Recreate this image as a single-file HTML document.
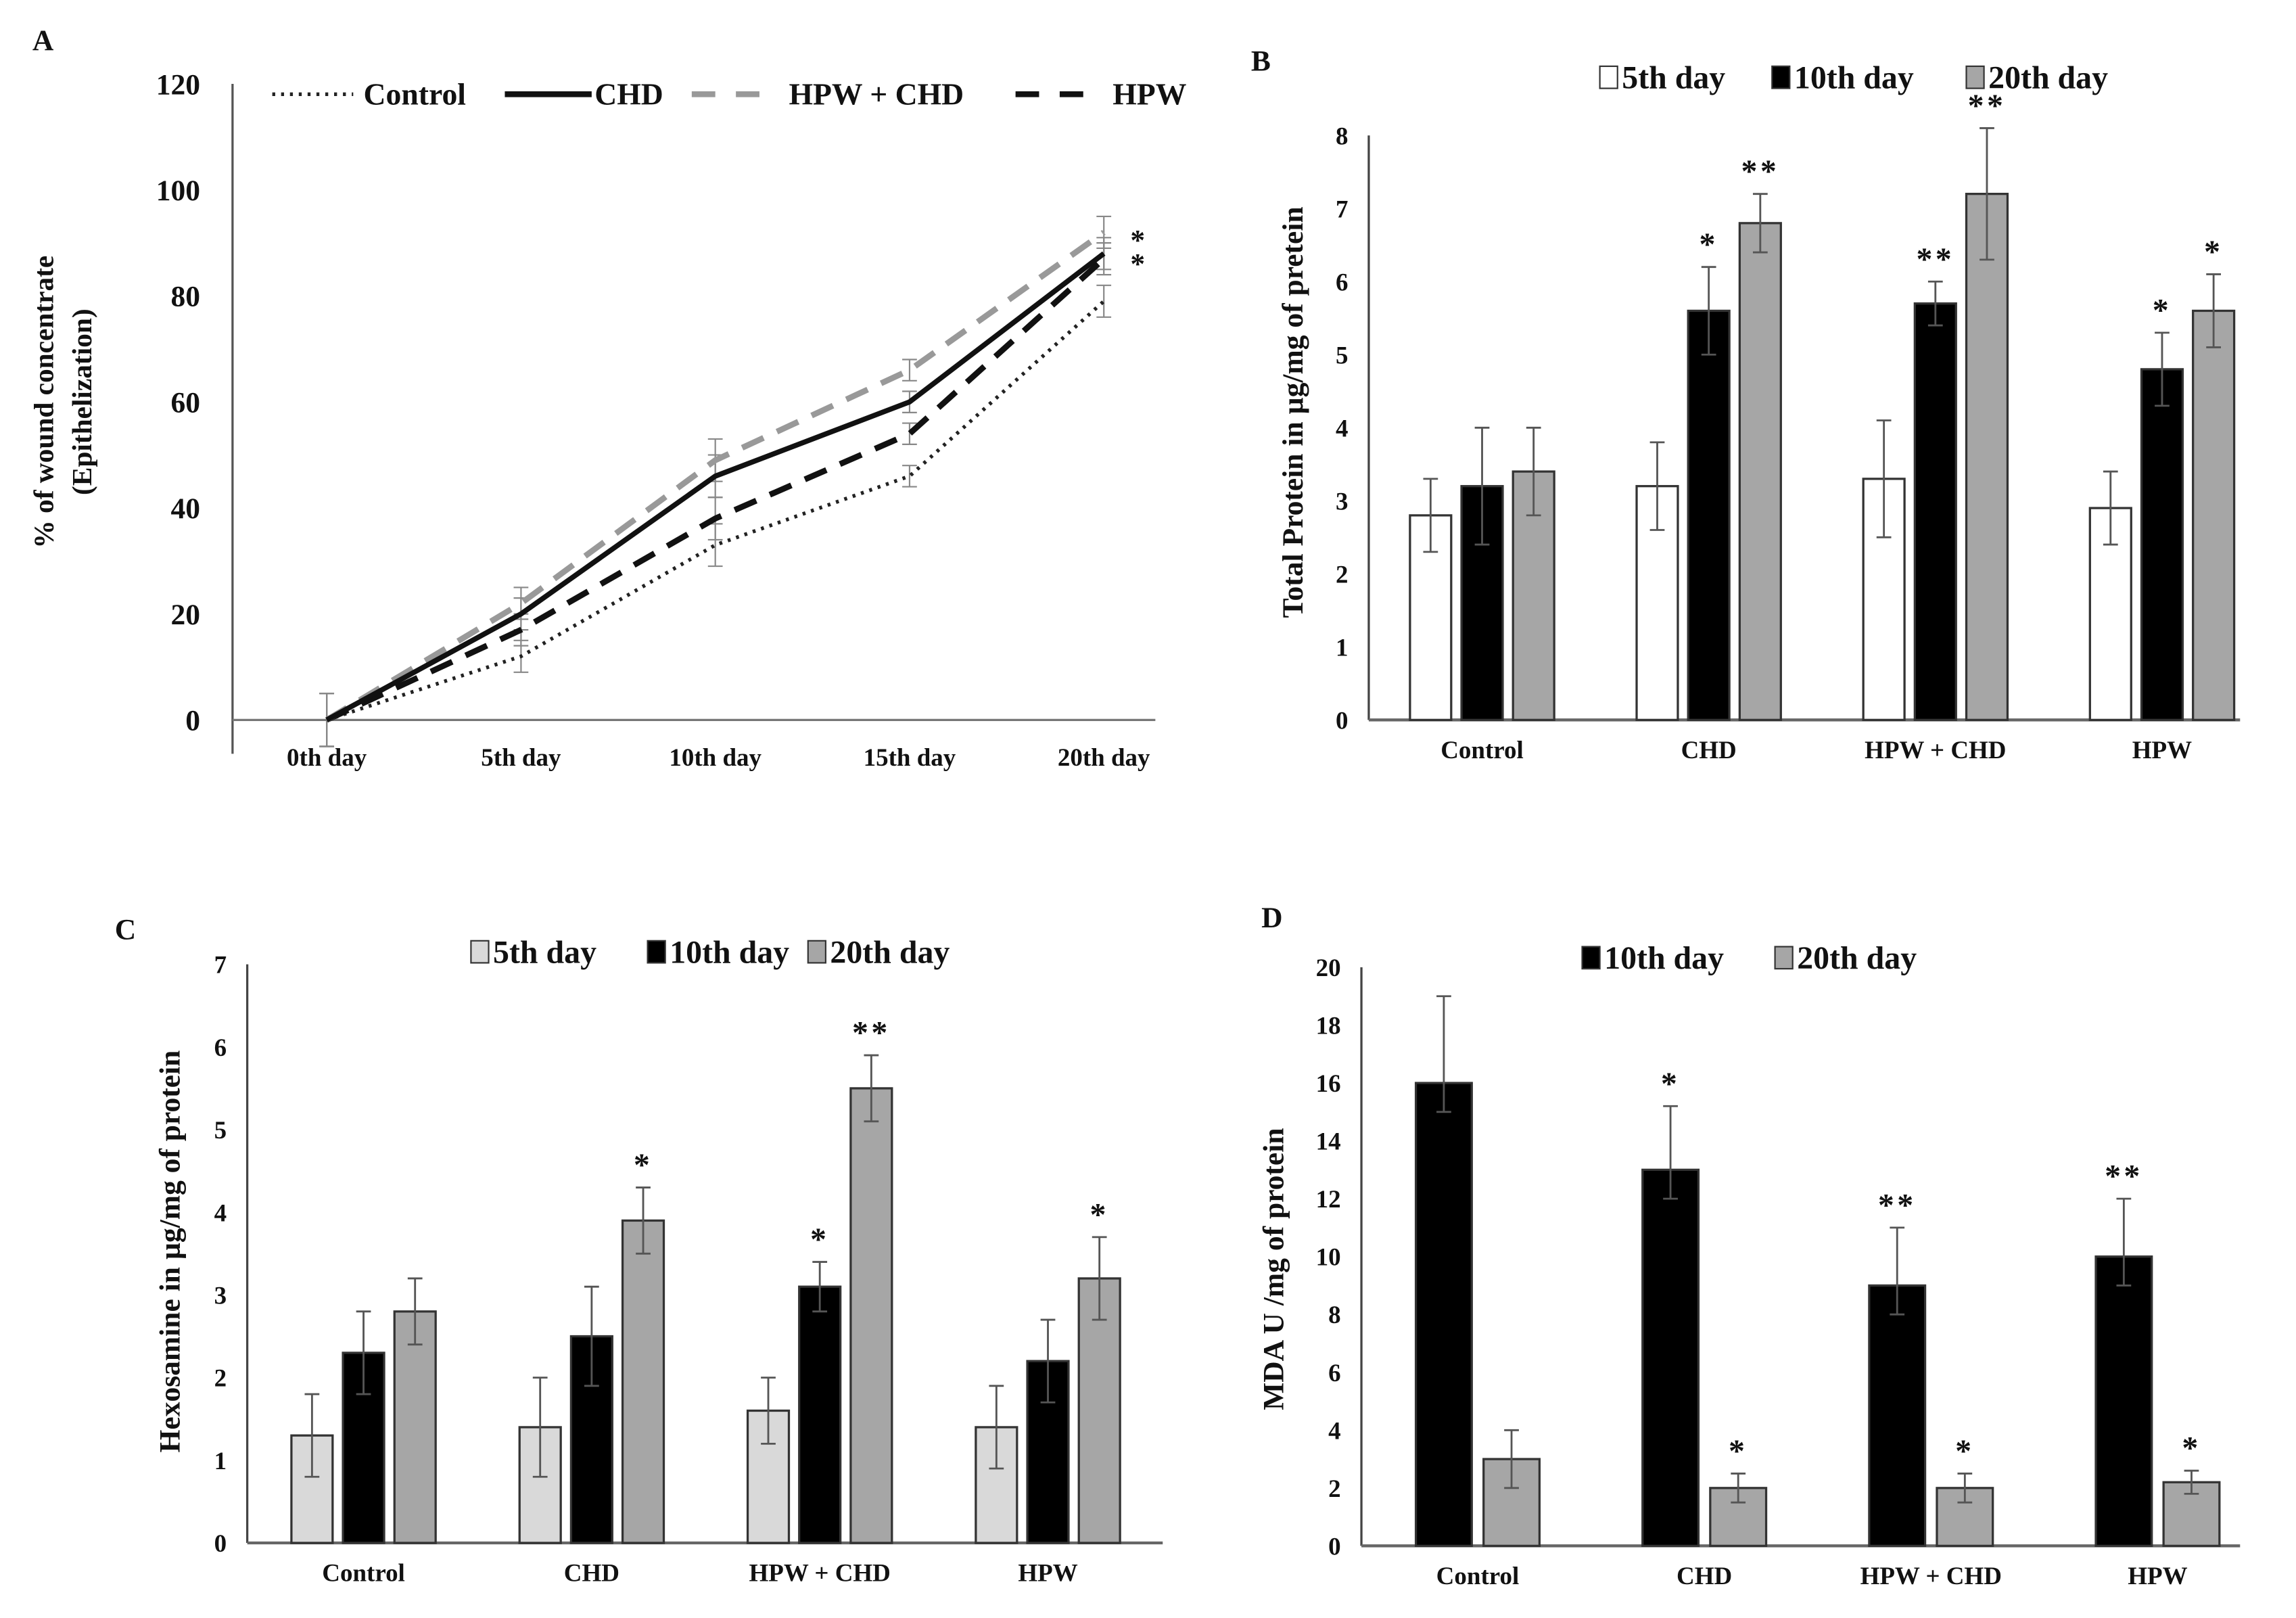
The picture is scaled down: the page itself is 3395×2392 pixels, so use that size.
<!DOCTYPE html>
<html><head><meta charset="utf-8"><style>
html,body{margin:0;padding:0;background:#fff}
svg{display:block}
text{font-family:"Liberation Serif",serif;font-weight:bold;fill:#111}
</style></head><body>
<svg id="fig" width="3395" height="2392" viewBox="0 0 1560 1099" preserveAspectRatio="none" xmlns="http://www.w3.org/2000/svg">
<rect width="1560" height="1099" fill="#fff"/>
<g id="pA"></g>
<g id="pB"></g>
<g id="pC"></g>
<g id="pD"></g>
</svg>
<script>
// Panel A data
const aDays = ["0th day","5th day","10th day","15th day","20th day"];
const aControl = [0,12,33,46,79];
const aCHD = [0,20,46,60,88];
const aHPWCHD = [0,22,49,66,92];
const aHPW = [0,17,38,54,87];
const aErr = [5,3,4,2,3];
const aTicks = [0,20,40,60,80,100,120];
// Panel B data
const groups = ["Control","CHD","HPW + CHD","HPW"];
const b5 = [2.8,3.2,3.3,2.9];
const b10 = [3.2,5.6,5.7,4.8];
const b20 = [3.4,6.8,7.2,5.6];
const b5e = [0.5,0.6,0.8,0.5];
const b10e = [0.8,0.6,0.3,0.5];
const b20e = [0.6,0.4,0.9,0.5];
const b10s = ["","*","**","*"];
const b20s = ["","**","**","*"];
const bTicks = [0,1,2,3,4,5,6,7,8];
// Panel C data
const c5 = [1.3,1.4,1.6,1.4];
const c10 = [2.3,2.5,3.1,2.2];
const c20 = [2.8,3.9,5.5,3.2];
const c5e = [0.5,0.6,0.4,0.5];
const c10e = [0.5,0.6,0.3,0.5];
const c20e = [0.4,0.4,0.4,0.5];
const c10s = ["","","*",""];
const c20s = ["","*","**","*"];
const cTicks = [0,1,2,3,4,5,6,7];
// Panel D data
const d10 = [16,13,9,10];
const d20 = [3,2,2,2.2];
const d10hi = [19,15.2,11,12];
const d10lo = [15,12,8,9];
const d20hi = [4,2.5,2.5,2.6];
const d20lo = [2,1.5,1.5,1.8];
const d10s = ["","*","**","**"];
const d20s = ["","*","*","*"];
const dTicks = [0,2,4,6,8,10,12,14,16,18,20];

const NS="http://www.w3.org/2000/svg";
function mk(parent,tag,attrs,txt){const e=document.createElementNS(NS,tag);for(const k in attrs)e.setAttribute(k,attrs[k]);if(txt!==undefined)e.textContent=txt;parent.appendChild(e);return e;}
function lin(d0,d1,r0,r1){return v=>r0+(v-d0)*(r1-r0)/(d1-d0);}

// ---------- Panel A ----------
(function(){
const g=document.getElementById('pA');
const y=lin(0,120,489,57);
const x=i=>222+i*132;
let t=mk(g,'text',{x:22,y:34,'font-size':20});
t.textContent='A';
let ax=mk(g,'line',{x1:158,y1:57,x2:158,y2:512,stroke:'#555','stroke-width':1.5});

let bx=mk(g,'line',{x1:158,y1:y(0),x2:785,y2:y(0),stroke:'#777','stroke-width':1.5});

aTicks.forEach(v=>{const e=mk(g,'text',{x:136,y:y(v)+7,'text-anchor':'end','font-size':20},v);
});
aDays.forEach((d,i)=>{const e=mk(g,'text',{x:x(i),y:520,'text-anchor':'middle','font-size':17},d);
});
const yt=mk(g,'text',{transform:'translate(36,273) rotate(-90)','text-anchor':'middle','font-size':19},'% of wound concentrate');

const yt2=mk(g,'text',{transform:'translate(62,273) rotate(-90)','text-anchor':'middle','font-size':19},'(Epithelization)');

const series=[
 {d:aControl,n:'control',st:'#222',w:2.5,da:'2 4'},
 {d:aHPW,n:'hpw',st:'#111',w:4,da:'16 10'},
 {d:aHPWCHD,n:'hpw-chd',st:'#999',w:4,da:'16 10'},
 {d:aCHD,n:'chd',st:'#111',w:3.5,da:''}];
series.forEach(s=>{
 s.d.forEach((v,i)=>{const eb=mk(g,'path',{d:`M${x(i)},${y(v-aErr[i])}V${y(v+aErr[i])}M${x(i)-5},${y(v-aErr[i])}h10M${x(i)-5},${y(v+aErr[i])}h10`,stroke:'#888','stroke-width':1,fill:'none'});
 });
});
series.forEach(s=>{
 const p=mk(g,'polyline',{points:s.d.map((v,i)=>x(i)+','+y(v)).join(' '),fill:'none',stroke:s.st,'stroke-width':s.w,'stroke-dasharray':s.da});
 
});
const st=mk(g,'text',{x:768,y:y(aHPWCHD[4])+12,'font-size':20},'*');
const st2=mk(g,'text',{x:768,y:y(aHPWCHD[4])+28,'font-size':20},'*');
// legend
const lg=mk(g,'g',{});
mk(lg,'line',{x1:185,y1:64,x2:240,y2:64,stroke:'#222','stroke-width':2.5,'stroke-dasharray':'2 4'});
mk(lg,'text',{x:247,y:71,'font-size':21},'Control');
mk(lg,'line',{x1:343,y1:64,x2:402,y2:64,stroke:'#111','stroke-width':4});
mk(lg,'text',{x:404,y:71,'font-size':21},'CHD');
mk(lg,'line',{x1:470,y1:64,x2:530,y2:64,stroke:'#999','stroke-width':4,'stroke-dasharray':'16 14'});
mk(lg,'text',{x:536,y:71,'font-size':21},'HPW + CHD');
mk(lg,'line',{x1:690,y1:64,x2:750,y2:64,stroke:'#111','stroke-width':4,'stroke-dasharray':'16 14'});
mk(lg,'text',{x:756,y:71,'font-size':21},'HPW');
})();

// ---------- generic bar panel ----------
function barPanel(o){
 const g=document.getElementById(o.id);
 const y=lin(0,o.max,o.y0,o.ytop);
 const lab=mk(g,'text',{x:o.lx,y:o.ly,'font-size':20},o.label);
 
 const ya=mk(g,'line',{x1:o.ax,y1:o.ytop,x2:o.ax,y2:o.y0,stroke:'#444','stroke-width':1.5});
 
 const xa=mk(g,'line',{x1:o.ax,y1:o.y0,x2:o.axEnd,y2:o.y0,stroke:'#666','stroke-width':2});
 
 o.ticks.forEach(v=>{const e=mk(g,'text',{x:o.ax-14,y:y(v)+6,'text-anchor':'end','font-size':17,fill:o.tickFill},v);
 });
 const yt=mk(g,'text',{transform:`translate(${o.tx},${o.tyc}) rotate(-90)`,'text-anchor':'middle','font-size':20},o.ytitle);
 
 groups.forEach((gn,gi)=>{
  const cx=o.c0+gi*o.gap;
  const tl=mk(g,'text',{x:cx,y:o.y0+26,'text-anchor':'middle','font-size':17},gn);
  
  o.series.forEach((s,si)=>{
   const n=o.series.length;
   const bxc=cx+(si-(n-1)/2)*o.step;
   const v=s.v[gi];
   const r=mk(g,'rect',{x:bxc-o.bw/2,y:y(v),width:o.bw,height:o.y0-y(v),fill:s.fill,stroke:'#333','stroke-width':1.5});
   
   
   const hi=s.hi?s.hi[gi]:v+s.e[gi], lo=s.lo?s.lo[gi]:v-s.e[gi];
   const eb=mk(g,'path',{d:`M${bxc},${y(lo)}V${y(hi)}M${bxc-5},${y(lo)}h10M${bxc-5},${y(hi)}h10`,stroke:'#555','stroke-width':1.3,fill:'none'});
   
   if(s.s&&s.s[gi]){const st=mk(g,'text',{x:bxc,y:y(hi)-8,'text-anchor':'middle','font-size':22,'letter-spacing':2},s.s[gi]);
    }
  });
 });
 const lg=mk(g,'g',{});
 o.legend.forEach(L=>{mk(lg,'rect',{x:L.x,y:o.legY-13,width:12,height:15,fill:L.fill,stroke:'#333','stroke-width':1});
  mk(lg,'text',{x:L.x+15,y:o.legY+2,'font-size':22},L.t);});
}

barPanel({id:'pB',p:'b',label:'B',lx:850,ly:48,max:8,y0:489,ytop:92,ax:930,axEnd:1522,ticks:bTicks,tickFill:'#111',
 tx:885,tyc:280,ytitle:'Total Protein in µg/mg of pretein',c0:1007,gap:154,step:35,bw:28,
 series:[{n:'5th-day',v:b5,e:b5e,fill:'#fff'},{n:'10th-day',v:b10,e:b10e,fill:'#000',s:b10s},{n:'20th-day',v:b20,e:b20e,fill:'#a6a6a6',s:b20s}],
 legY:58,legend:[{x:1087,fill:'#fff',t:'5th day'},{x:1204,fill:'#000',t:'10th day'},{x:1336,fill:'#a6a6a6',t:'20th day'}]});

barPanel({id:'pC',p:'c',label:'C',lx:78,ly:638,max:7,y0:1048,ytop:655,ax:168,axEnd:790,ticks:cTicks,tickFill:'#555',
 tx:122,tyc:850,ytitle:'Hexosamine in µg/mg of protein',c0:247,gap:155,step:35,bw:28,
 series:[{n:'5th-day',v:c5,e:c5e,fill:'#d9d9d9'},{n:'10th-day',v:c10,e:c10e,fill:'#000',s:c10s},{n:'20th-day',v:c20,e:c20e,fill:'#a6a6a6',s:c20s}],
 legY:652,legend:[{x:320,fill:'#d9d9d9',t:'5th day'},{x:440,fill:'#000',t:'10th day'},{x:549,fill:'#a6a6a6',t:'20th day'}]});

barPanel({id:'pD',p:'d',label:'D',lx:857,ly:630,max:20,y0:1050,ytop:657,ax:925,axEnd:1522,ticks:dTicks,tickFill:'#111',
 tx:872,tyc:862,ytitle:'MDA U /mg of protein',c0:1004,gap:154,step:46,bw:38,
 series:[{n:'10th-day',v:d10,hi:d10hi,lo:d10lo,fill:'#000',s:d10s},{n:'20th-day',v:d20,hi:d20hi,lo:d20lo,fill:'#a6a6a6',s:d20s}],
 legY:656,legend:[{x:1075,fill:'#000',t:'10th day'},{x:1206,fill:'#a6a6a6',t:'20th day'}]});
</script>
</body></html>
